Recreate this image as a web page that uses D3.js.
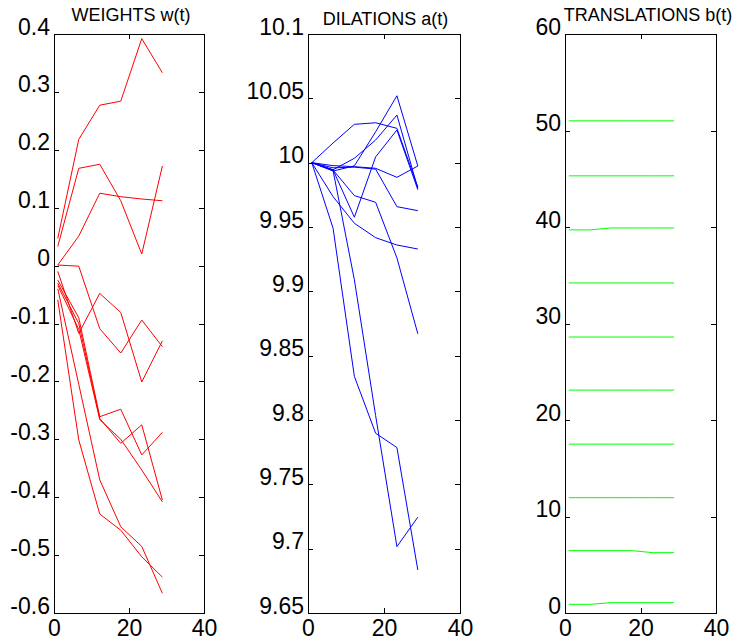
<!DOCTYPE html>
<html>
<head>
<meta charset="utf-8">
<script src="https://cdn.jsdelivr.net/npm/d3@7"></script>
<style>
  html, body { margin: 0; padding: 0; background: #fff; }
  svg { display: block; }
  text { font-family: "Liberation Sans", Arial, Helvetica, sans-serif; fill: #000; }
</style>
</head>
<body>
<svg id="chart" width="736" height="642"></svg>
<script>
// Sample times shared by all trajectories
const tSteps = [1, 6.6, 12.2, 17.8, 23.4, 28.9];
const xTicks = [0, 20, 40];
const xTickLabels = ["0", "20", "40"];

// Weights w(t), one array per neuron
const w1  = [0.047, 0.218, 0.277, 0.284, 0.392, 0.333];
const w2  = [0.033, 0.168, 0.175, 0.112, 0.020, 0.172];
const w3  = [0.001, 0.051, 0.125, 0.119, 0.115, 0.112];
const w4  = [0.001, -0.001, -0.109, -0.151, -0.094, -0.140];
const w5  = [-0.010, -0.117, -0.048, -0.081, -0.201, -0.130];
const w6  = [-0.025, -0.090, -0.261, -0.248, -0.327, -0.288];
const w7  = [-0.030, -0.100, -0.264, -0.307, -0.275, -0.405];
const w8  = [-0.034, -0.110, -0.266, -0.300, -0.353, -0.408];
const w9  = [-0.059, -0.301, -0.429, -0.457, -0.503, -0.538];
const w10 = [-0.040, -0.205, -0.370, -0.451, -0.485, -0.566];
const weightTicks = [0.4, 0.3, 0.2, 0.1, 0, -0.1, -0.2, -0.3, -0.4, -0.5, -0.6];
const weightLabels = ["0.4", "0.3", "0.2", "0.1", "0", "-0.1", "-0.2", "-0.3", "-0.4", "-0.5", "-0.6"];

// Dilations a(t)
const a1  = [10, 10.0153, 10.0298, 10.0310, 10.0267, 9.9810];
const a2  = [10, 9.9935, 9.9975, 10.0240, 10.0520, 9.9974];
const a3  = [10, 9.9945, 10.0034, 10.0176, 10.0370, 9.9800];
const a4  = [10, 9.9943, 9.9576, 10.0045, 10.0254, 9.9790];
const a5  = [10, 9.9977, 9.9969, 9.9956, 9.9886, 9.9974];
const a6  = [10, 9.9960, 9.9965, 9.9950, 9.9658, 9.9627];
const a7  = [10, 9.9736, 9.9529, 9.9417, 9.9360, 9.9329];
const a8  = [10, 9.9943, 9.9744, 9.9692, 9.9260, 9.8670];
const a9  = [10, 9.9490, 9.8339, 9.7897, 9.7786, 9.6835];
const a10 = [10, 9.9938, 9.9090, 9.8034, 9.7016, 9.7245];
const dilationTicks = [10.1, 10.05, 10, 9.95, 9.9, 9.85, 9.8, 9.75, 9.7, 9.65];
const dilationLabels = ["10.1", "10.05", "10", "9.95", "9.9", "9.85", "9.8", "9.75", "9.7", "9.65"];

// Translations b(t)
const b1  = [51.0, 51.0, 51.0, 51.0, 51.0, 51.0];
const b2  = [45.3, 45.3, 45.3, 45.3, 45.3, 45.3];
const b3  = [39.7, 39.7, 39.9, 39.9, 39.9, 39.9];
const b4  = [34.2, 34.2, 34.2, 34.2, 34.2, 34.2];
const b5  = [28.6, 28.6, 28.6, 28.6, 28.6, 28.6];
const b6  = [23.1, 23.1, 23.1, 23.1, 23.1, 23.1];
const b7  = [17.5, 17.5, 17.5, 17.5, 17.5, 17.5];
const b8  = [11.95, 11.95, 11.95, 11.95, 11.95, 11.95];
const b9  = [6.46, 6.46, 6.46, 6.46, 6.25, 6.25];
const b10 = [0.90, 0.90, 1.07, 1.07, 1.07, 1.07];
const translationTicks = [60, 50, 40, 30, 20, 10, 0];
const translationLabels = ["60", "50", "40", "30", "20", "10", "0"];

const panels = [
  { title: "WEIGHTS w(t)", left: 54, right: 204, titleDx: 2, titleY: 21,
    yDomain: [-0.6, 0.4], ticks: weightTicks, labels: weightLabels,
    series: [w1, w2, w3, w4, w5, w6, w7, w8, w9, w10], color: "#ff0000" },
  { title: "DILATIONS a(t)", left: 308, right: 460, titleDx: 1.5, titleY: 25,
    yDomain: [9.65, 10.1], ticks: dilationTicks, labels: dilationLabels,
    series: [a1, a2, a3, a4, a5, a6, a7, a8, a9, a10], color: "#0000ff" },
  { title: "TRANSLATIONS b(t)", left: 565, right: 716, titleDx: 7.5, titleY: 21,
    yDomain: [0, 60], ticks: translationTicks, labels: translationLabels,
    series: [b1, b2, b3, b4, b5, b6, b7, b8, b9, b10], color: "#00ff00" }
];

const plotTop = 34, plotBottom = 613, tickLen = 5;
const svg = d3.select("#chart");

panels.forEach(p => {
  const x = d3.scaleLinear().domain([0, 40]).range([p.left, p.right]);
  const y = d3.scaleLinear().domain(p.yDomain).range([plotBottom, plotTop]);
  const g = svg.append("g");

  // trajectories
  const line = d3.line().x((d, i) => x(tSteps[i])).y(d => y(d));
  g.append("g")
    .selectAll("path")
    .data(p.series)
    .join("path")
    .attr("d", line)
    .attr("fill", "none")
    .attr("stroke", p.color)
    .attr("stroke-width", 1);

  // inward ticks on all four sides
  const yLeft = g.append("g").attr("transform", `translate(${p.left},0)`)
    .call(d3.axisLeft(y).tickValues(p.ticks).tickSizeInner(-tickLen).tickSizeOuter(0)
      .tickPadding(4).tickFormat((d, i) => p.labels[i]));
  yLeft.selectAll("text").attr("dy", 0);
  g.append("g").attr("transform", `translate(${p.right},0)`)
    .call(d3.axisRight(y).tickValues(p.ticks).tickSizeInner(-tickLen).tickSizeOuter(0).tickFormat(""));
  g.append("g").attr("transform", `translate(0,${plotTop})`)
    .call(d3.axisTop(x).tickValues(xTicks).tickSizeInner(-tickLen).tickSizeOuter(0).tickFormat(""));
  const xBottom = g.append("g").attr("transform", `translate(0,${plotBottom})`)
    .call(d3.axisBottom(x).tickValues(xTicks).tickSizeInner(-tickLen).tickSizeOuter(0)
      .tickFormat((d, i) => xTickLabels[i]));
  xBottom.selectAll("text").attr("y", 23).attr("dy", 0);

  g.selectAll(".domain").remove();
  g.selectAll("g").attr("font-family", null).attr("font-size", null);
  g.selectAll(".tick line").attr("stroke", "#000").attr("shape-rendering", "crispEdges");
  g.selectAll(".tick text").attr("fill", "#000").style("font-size", "23px")
    .style("font-family", '"Liberation Sans", Arial, Helvetica, sans-serif');

  // axes box
  g.append("rect")
    .attr("x", p.left).attr("y", plotTop)
    .attr("width", p.right - p.left).attr("height", plotBottom - plotTop)
    .attr("fill", "none").attr("stroke", "#000").attr("stroke-width", 1)
    .attr("shape-rendering", "crispEdges");

  // panel title
  g.append("text")
    .attr("x", (p.left + p.right) / 2 + p.titleDx)
    .attr("y", p.titleY)
    .attr("text-anchor", "middle")
    .style("font-size", "18px")
    .text(p.title);
});
</script>
</body>
</html>
